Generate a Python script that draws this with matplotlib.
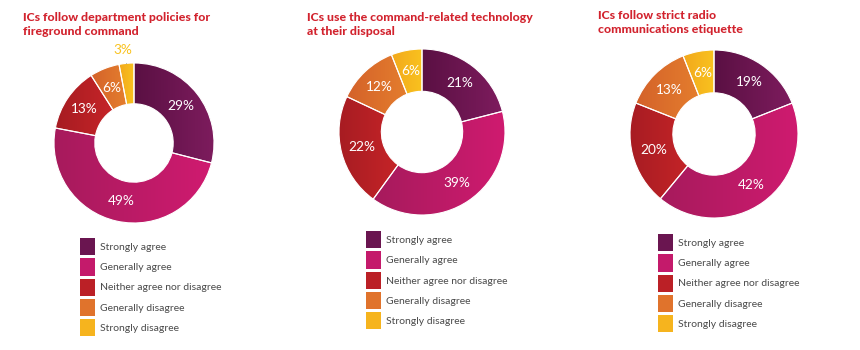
import numpy as np
import matplotlib
matplotlib.use("Agg")
from matplotlib import pyplot as plt
from matplotlib.patches import Patch
from matplotlib.colors import LinearSegmentedColormap

# data
categories = ["Strongly agree", "Generally agree", "Neither agree nor disagree",
              "Generally disagree", "Strongly disagree"]
titles = ["ICs follow department policies for\nfireground command",
          "ICs use the command-related technology\nat their disposal",
          "ICs follow strict radio\ncommunications etiquette"]
policies = [29, 49, 13, 6, 3]
technology = [21, 39, 22, 12, 6]
etiquette = [19, 42, 20, 13, 6]

# (left/dark, right/light) ends of each wedge's gradient
gradients = [("#5a1043", "#7e1c5e"), ("#a61b5c", "#d01a70"), ("#a61c22", "#d1272a"),
             ("#d4622a", "#e8842e"), ("#f2a81c", "#f9c21f")]
colours = ["#6a1550", "#c41a6b", "#bb2026", "#e0732c", "#f6b41e"]
title_red = "#d2232e"
W, H = 860, 350

plt.rcParams['font.family'] = ['Lato', 'DejaVu Sans']

fig = plt.figure(figsize=(W / 100, H / 100), dpi=100)

# (centre x, centre y, radius) in pixels, title pos, legend pos
panels = [
    (policies, titles[0], (134, 143, 80), (23, 12), (80, 238)),
    (technology, titles[1], (422, 132, 83), (307, 12), (366, 231)),
    (etiquette, titles[2], (714, 134, 84), (598, 10), (658, 234)),
]

ramp = np.linspace(0, 1, 256).reshape(1, -1)

for values, title, (cx, cy, r), (tx, ty), (lx, ly) in panels:
    ax = fig.add_axes([(cx - r) / W, (H - cy - r) / H, 2 * r / W, 2 * r / H])
    wedges, _ = ax.pie(values, colors=colours, startangle=90, counterclock=False,
                       radius=1, wedgeprops=dict(width=0.51, edgecolor="white", linewidth=0.8))
    for w, v, (c0, c1) in zip(wedges, values, gradients):
        # horizontal colour ramp clipped to the wedge
        verts = w.get_path().vertices
        x0, x1 = verts[:, 0].min(), verts[:, 0].max()
        y0, y1 = verts[:, 1].min(), verts[:, 1].max()
        cmap = LinearSegmentedColormap.from_list("g", [c0, c1])
        im = ax.imshow(ramp, cmap=cmap, extent=(x0, x1, y0, y1), aspect="auto",
                       zorder=w.get_zorder() - 0.5, interpolation="bilinear")
        im.set_clip_path(w)
        w.set_facecolor("none")

        ang = np.deg2rad((w.theta1 + w.theta2) / 2)
        if v < 5:
            ax.plot([np.cos(ang) * 1.0, np.cos(ang) * 1.07],
                    [np.sin(ang) * 1.0, np.sin(ang) * 1.07], color="#999999", lw=0.6)
            ax.text(np.cos(ang) * 1.17 - 0.03, np.sin(ang) * 1.17, f"{v}%",
                    ha="center", va="center", color=c1, fontsize=9.8)
        else:
            ax.text(np.cos(ang) * 0.745, np.sin(ang) * 0.745, f"{v}%",
                    ha="center", va="center", color="white", fontsize=9.8)
    ax.set_xlim(-1, 1)
    ax.set_ylim(-1, 1)
    ax.set_aspect("equal")
    ax.axis("off")

    fig.text(tx / W, 1 - ty / H, title, ha="left", va="top", color=title_red,
             fontsize=8.8, fontweight="black", linespacing=1.3)

    handles = [Patch(facecolor=c, edgecolor="none") for c in colours]
    fig.legend(handles, categories, loc="upper left",
               bbox_to_anchor=(lx / W, 1 - ly / H), frameon=False,
               fontsize=7.5, handlelength=1.45, handleheight=2.2,
               labelspacing=0.27, handletextpad=0.45, borderpad=0,
               borderaxespad=0, labelcolor="#4a4a4a")

fig.savefig("out.png", dpi=100, facecolor="white")
